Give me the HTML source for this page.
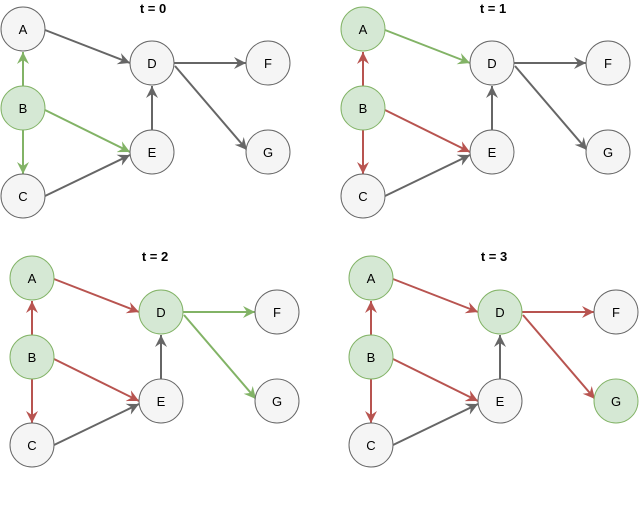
<!DOCTYPE html>
<html><head><meta charset="utf-8"><style>
html,body{margin:0;padding:0;background:#fff;}
svg text{font-family:"Liberation Sans",sans-serif;}
</style></head><body>
<svg width="640" height="501" viewBox="0 0 640 501" xmlns="http://www.w3.org/2000/svg">
<defs>
<marker id="mk" markerUnits="userSpaceOnUse" markerWidth="14" markerHeight="12" refX="12" refY="6" orient="auto"><path d="M0,0 L12,6 L0,12 L4,6 z" fill="#666"/></marker>
<marker id="mg" markerUnits="userSpaceOnUse" markerWidth="14" markerHeight="12" refX="12" refY="6" orient="auto"><path d="M0,0 L12,6 L0,12 L4,6 z" fill="#82b366"/></marker>
<marker id="mr" markerUnits="userSpaceOnUse" markerWidth="14" markerHeight="12" refX="12" refY="6" orient="auto"><path d="M0,0 L12,6 L0,12 L4,6 z" fill="#b85450"/></marker>
</defs>
<g font-size="13" text-anchor="middle">
<!-- panel template via repeated groups -->
<!-- t=0 -->
<g transform="translate(0,0)">
<text x="153" y="13" font-weight="bold" font-size="13">t = 0</text>
<g stroke-width="2" fill="none">
<line x1="45" y1="30" x2="130" y2="63" stroke="#666" marker-end="url(#mk)"/>
<line x1="23" y1="86" x2="23" y2="52" stroke="#82b366" marker-end="url(#mg)"/>
<line x1="23" y1="130" x2="23" y2="174" stroke="#82b366" marker-end="url(#mg)"/>
<line x1="45" y1="110" x2="130" y2="152" stroke="#82b366" marker-end="url(#mg)"/>
<line x1="45" y1="196" x2="130" y2="155" stroke="#666" marker-end="url(#mk)"/>
<line x1="152" y1="130" x2="152" y2="86" stroke="#666" marker-end="url(#mk)"/>
<line x1="174" y1="63" x2="246" y2="63" stroke="#666" marker-end="url(#mk)"/>
<line x1="175" y1="66" x2="247" y2="150" stroke="#666" marker-end="url(#mk)"/>
</g>
<g stroke-width="1">
<circle cx="23" cy="29" r="22" fill="#f5f5f5" stroke="#666"/>
<circle cx="23" cy="108" r="22" fill="#d5e8d4" stroke="#82b366"/>
<circle cx="23" cy="196" r="22" fill="#f5f5f5" stroke="#666"/>
<circle cx="152" cy="63" r="22" fill="#f5f5f5" stroke="#666"/>
<circle cx="152" cy="152" r="22" fill="#f5f5f5" stroke="#666"/>
<circle cx="268" cy="63" r="22" fill="#f5f5f5" stroke="#666"/>
<circle cx="268" cy="152" r="22" fill="#f5f5f5" stroke="#666"/>
</g>
<text x="23" y="34">A</text><text x="23" y="113">B</text><text x="23" y="201">C</text><text x="152" y="68">D</text><text x="152" y="157">E</text><text x="268" y="68">F</text><text x="268" y="157">G</text>
</g>
<!-- t=1 -->
<g transform="translate(340,0)">
<text x="153" y="13" font-weight="bold" font-size="13">t = 1</text>
<g stroke-width="2" fill="none">
<line x1="45" y1="30" x2="130" y2="63" stroke="#82b366" marker-end="url(#mg)"/>
<line x1="23" y1="86" x2="23" y2="52" stroke="#b85450" marker-end="url(#mr)"/>
<line x1="23" y1="130" x2="23" y2="174" stroke="#b85450" marker-end="url(#mr)"/>
<line x1="45" y1="110" x2="130" y2="152" stroke="#b85450" marker-end="url(#mr)"/>
<line x1="45" y1="196" x2="130" y2="155" stroke="#666" marker-end="url(#mk)"/>
<line x1="152" y1="130" x2="152" y2="86" stroke="#666" marker-end="url(#mk)"/>
<line x1="174" y1="63" x2="246" y2="63" stroke="#666" marker-end="url(#mk)"/>
<line x1="175" y1="66" x2="247" y2="150" stroke="#666" marker-end="url(#mk)"/>
</g>
<g stroke-width="1">
<circle cx="23" cy="29" r="22" fill="#d5e8d4" stroke="#82b366"/>
<circle cx="23" cy="108" r="22" fill="#d5e8d4" stroke="#82b366"/>
<circle cx="23" cy="196" r="22" fill="#f5f5f5" stroke="#666"/>
<circle cx="152" cy="63" r="22" fill="#f5f5f5" stroke="#666"/>
<circle cx="152" cy="152" r="22" fill="#f5f5f5" stroke="#666"/>
<circle cx="268" cy="63" r="22" fill="#f5f5f5" stroke="#666"/>
<circle cx="268" cy="152" r="22" fill="#f5f5f5" stroke="#666"/>
</g>
<text x="23" y="34">A</text><text x="23" y="113">B</text><text x="23" y="201">C</text><text x="152" y="68">D</text><text x="152" y="157">E</text><text x="268" y="68">F</text><text x="268" y="157">G</text>
</g>
<!-- t=2 -->
<g transform="translate(9,249)">
<text x="146" y="12" font-weight="bold" font-size="13">t = 2</text>
<g stroke-width="2" fill="none">
<line x1="45" y1="30" x2="130" y2="63" stroke="#b85450" marker-end="url(#mr)"/>
<line x1="23" y1="86" x2="23" y2="52" stroke="#b85450" marker-end="url(#mr)"/>
<line x1="23" y1="130" x2="23" y2="174" stroke="#b85450" marker-end="url(#mr)"/>
<line x1="45" y1="110" x2="130" y2="152" stroke="#b85450" marker-end="url(#mr)"/>
<line x1="45" y1="196" x2="130" y2="155" stroke="#666" marker-end="url(#mk)"/>
<line x1="152" y1="130" x2="152" y2="86" stroke="#666" marker-end="url(#mk)"/>
<line x1="174" y1="63" x2="246" y2="63" stroke="#82b366" marker-end="url(#mg)"/>
<line x1="175" y1="66" x2="247" y2="150" stroke="#82b366" marker-end="url(#mg)"/>
</g>
<g stroke-width="1">
<circle cx="23" cy="29" r="22" fill="#d5e8d4" stroke="#82b366"/>
<circle cx="23" cy="108" r="22" fill="#d5e8d4" stroke="#82b366"/>
<circle cx="23" cy="196" r="22" fill="#f5f5f5" stroke="#666"/>
<circle cx="152" cy="63" r="22" fill="#d5e8d4" stroke="#82b366"/>
<circle cx="152" cy="152" r="22" fill="#f5f5f5" stroke="#666"/>
<circle cx="268" cy="63" r="22" fill="#f5f5f5" stroke="#666"/>
<circle cx="268" cy="152" r="22" fill="#f5f5f5" stroke="#666"/>
</g>
<text x="23" y="34">A</text><text x="23" y="113">B</text><text x="23" y="201">C</text><text x="152" y="68">D</text><text x="152" y="157">E</text><text x="268" y="68">F</text><text x="268" y="157">G</text>
</g>
<!-- t=3 -->
<g transform="translate(348,249)">
<text x="146" y="12" font-weight="bold" font-size="13">t = 3</text>
<g stroke-width="2" fill="none">
<line x1="45" y1="30" x2="130" y2="63" stroke="#b85450" marker-end="url(#mr)"/>
<line x1="23" y1="86" x2="23" y2="52" stroke="#b85450" marker-end="url(#mr)"/>
<line x1="23" y1="130" x2="23" y2="174" stroke="#b85450" marker-end="url(#mr)"/>
<line x1="45" y1="110" x2="130" y2="152" stroke="#b85450" marker-end="url(#mr)"/>
<line x1="45" y1="196" x2="130" y2="155" stroke="#666" marker-end="url(#mk)"/>
<line x1="152" y1="130" x2="152" y2="86" stroke="#666" marker-end="url(#mk)"/>
<line x1="174" y1="63" x2="246" y2="63" stroke="#b85450" marker-end="url(#mr)"/>
<line x1="175" y1="66" x2="247" y2="150" stroke="#b85450" marker-end="url(#mr)"/>
</g>
<g stroke-width="1">
<circle cx="23" cy="29" r="22" fill="#d5e8d4" stroke="#82b366"/>
<circle cx="23" cy="108" r="22" fill="#d5e8d4" stroke="#82b366"/>
<circle cx="23" cy="196" r="22" fill="#f5f5f5" stroke="#666"/>
<circle cx="152" cy="63" r="22" fill="#d5e8d4" stroke="#82b366"/>
<circle cx="152" cy="152" r="22" fill="#f5f5f5" stroke="#666"/>
<circle cx="268" cy="63" r="22" fill="#f5f5f5" stroke="#666"/>
<circle cx="268" cy="152" r="22" fill="#d5e8d4" stroke="#82b366"/>
</g>
<text x="23" y="34">A</text><text x="23" y="113">B</text><text x="23" y="201">C</text><text x="152" y="68">D</text><text x="152" y="157">E</text><text x="268" y="68">F</text><text x="268" y="157">G</text>
</g>
</g>
</svg>
</body></html>
